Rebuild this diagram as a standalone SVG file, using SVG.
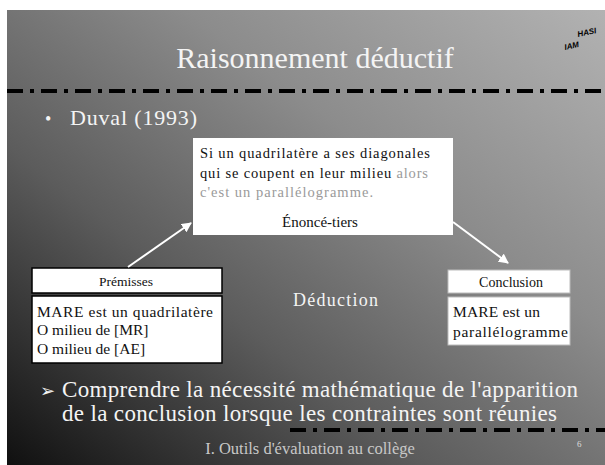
<svg xmlns="http://www.w3.org/2000/svg" width="605" height="465" viewBox="0 0 605 465">
<defs>
<linearGradient id="bg" x1="1" y1="0" x2="0" y2="1">
<stop offset="0" stop-color="#b2b2b2"/>
<stop offset="0.35" stop-color="#8c8c8c"/>
<stop offset="0.65" stop-color="#5c5c5c"/>
<stop offset="1" stop-color="#101010"/>
</linearGradient>
<marker id="ah" viewBox="0 0 10 10" refX="9" refY="5" markerWidth="5" markerHeight="5" orient="auto">
<path d="M0,0 L10,5 L0,10 z" fill="#fff"/>
</marker>
<style>
.w{font-family:"Liberation Serif","Times New Roman",serif;fill:#f4f4f4}
.b{font-family:"Liberation Serif","Times New Roman",serif;fill:#111}
.g{fill:#9a9a9a}
.dash{stroke:#000;stroke-width:4;stroke-dasharray:16 7 4 7;fill:none}
.box{fill:#fff}
</style>
</defs>
<rect width="605" height="465" fill="#fff"/>
<rect x="7" y="10" width="598" height="455" fill="url(#bg)"/>

<g id="title">
<text class="w" x="315" y="68" font-size="30" text-anchor="middle">Raisonnement déductif</text>
</g>
<g id="logo">
<text x="578" y="37" font-family="Liberation Sans, sans-serif" font-size="8" font-weight="bold" font-style="italic" fill="#000" transform="rotate(-12 578 37)">HASI</text>
<text x="565" y="50" font-family="Liberation Sans, sans-serif" font-size="8" font-weight="bold" font-style="italic" fill="#000" transform="rotate(-12 565 50)">IAM</text>
</g>
<g id="rules">
<line class="dash" x1="7" y1="91" x2="605" y2="91"/>
<line class="dash" x1="290" y1="430" x2="605" y2="430"/>
</g>

<g id="source">
<text class="w" x="45" y="125" font-size="18">•</text>
<text class="w" x="70" y="125" font-size="22" textLength="127">Duval (1993)</text>
</g>

<g id="enonce">
<rect class="box" x="193" y="138" width="260" height="97"/>
<text class="b" x="200" y="158" font-size="14.5" textLength="230">Si un quadrilatère a ses diagonales</text>
<text class="b" x="200" y="178" font-size="14.5" textLength="228">qui se coupent en leur milieu <tspan class="g">alors</tspan></text>
<text class="b g" x="200" y="197" font-size="14.5" textLength="173">c'est un parallélogramme.</text>
<text class="b" x="320" y="227" font-size="15" text-anchor="middle">Énoncé-tiers</text>
</g>

<g id="premisses">
<rect class="box" x="32" y="268" width="190" height="25" stroke="#000" stroke-width="1.5"/>
<text class="b" x="126" y="286" font-size="13.5" text-anchor="middle">Prémisses</text>
<rect class="box" x="32" y="296" width="190" height="67" stroke="#000" stroke-width="1.5"/>
<text class="b" x="37" y="317" font-size="15.5" textLength="176">MARE est un quadrilatère</text>
<text class="b" x="37" y="335" font-size="15.5">O milieu de [MR]</text>
<text class="b" x="37" y="354" font-size="15.5">O milieu de [AE]</text>
</g>

<g id="conclusion">
<rect class="box" x="448" y="270" width="122" height="23" stroke="#bbb" stroke-width="1"/>
<text class="b" x="511" y="287" font-size="14" text-anchor="middle">Conclusion</text>
<rect class="box" x="448" y="297" width="122" height="48" stroke="#bbb" stroke-width="1"/>
<text class="b" x="453" y="317" font-size="15.5" textLength="87">MARE est un</text>
<text class="b" x="453" y="337" font-size="15.5" textLength="115">parallélogramme</text>
</g>

<g id="deduction">
<text class="w" x="293" y="306" font-size="18" textLength="85">Déduction</text>
</g>

<g id="connectors" stroke="#fff" stroke-width="2" fill="none">
<line x1="128" y1="267" x2="191" y2="223" marker-end="url(#ah)"/>
<line x1="453" y1="222" x2="508" y2="263" marker-end="url(#ah)"/>
</g>

<g id="body">
<text class="w" x="40" y="397" font-size="18" style="font-family:'DejaVu Sans',sans-serif">➢</text>
<text class="w" x="62" y="397" font-size="23" textLength="516">Comprendre la nécessité mathématique de l'apparition</text>
<text class="w" x="62" y="421" font-size="23" textLength="495">de la conclusion  lorsque les contraintes sont réunies</text>
</g>

<g id="footer">
<text class="w" x="310" y="454" font-size="16.5" text-anchor="middle" style="fill:#c8c8c8">I. Outils d'évaluation au collège</text>
<text class="w" x="577" y="447" font-size="9" style="fill:#ddd">6</text>
</g>
</svg>
